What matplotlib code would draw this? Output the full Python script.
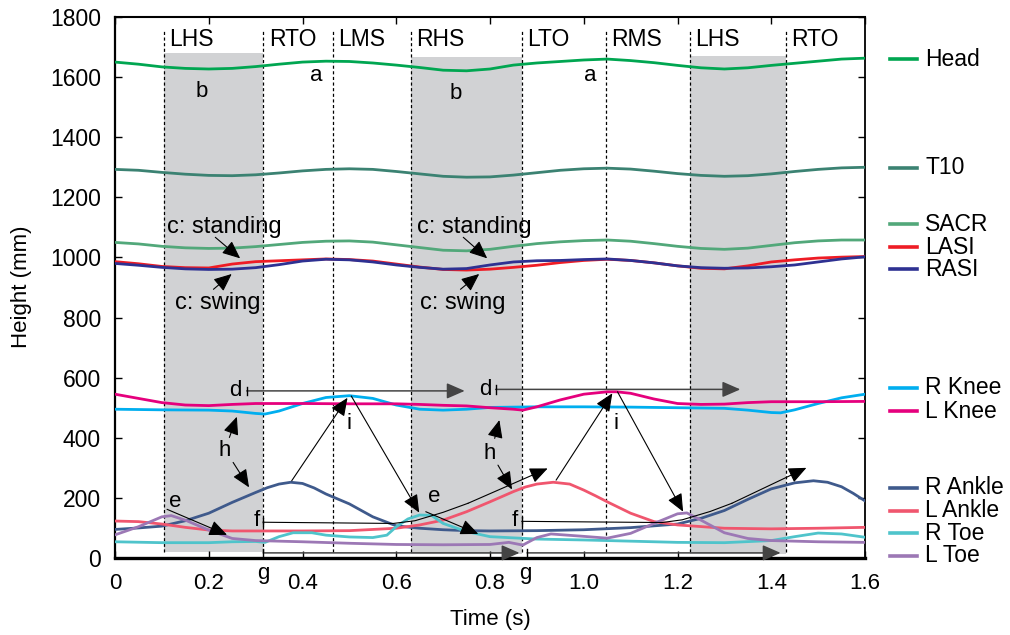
"""Gait marker heights over one and a half strides, with event annotations."""

import matplotlib
matplotlib.use("Agg")
import matplotlib.pyplot as plt  # noqa: E402
import matplotlib.transforms as mtransforms  # noqa: E402

plt.rcParams["font.family"] = ["Liberation Sans", "DejaVu Sans"]

# shared time grid for the upper-body markers (s)
T = [0.0, 0.05, 0.1, 0.15, 0.2, 0.25, 0.3, 0.35, 0.4, 0.45, 0.5, 0.55, 0.6,
     0.65, 0.7, 0.75, 0.8, 0.85, 0.9, 0.95, 1.0, 1.05, 1.1, 1.15, 1.2, 1.25,
     1.3, 1.35, 1.4, 1.45, 1.5, 1.55, 1.6]

HEAD = [1650, 1643, 1634, 1629, 1627, 1629, 1635, 1643, 1650, 1653, 1652,
        1647, 1640, 1632, 1623, 1621, 1627, 1640, 1647, 1652, 1657, 1660,
        1655, 1648, 1639, 1631, 1627, 1631, 1639, 1646, 1653, 1660, 1663]
T10 = [1293, 1290, 1283, 1277, 1273, 1272, 1275, 1281, 1288, 1293, 1295,
       1293, 1286, 1278, 1270, 1267, 1268, 1274, 1282, 1290, 1295, 1297,
       1294, 1287, 1279, 1273, 1270, 1272, 1278, 1286, 1293, 1298, 1300]
SACR = [1050, 1045, 1037, 1032, 1030, 1031, 1036, 1043, 1050, 1054, 1055,
        1051, 1042, 1033, 1024, 1022, 1027, 1037, 1046, 1052, 1056, 1058,
        1054, 1046, 1037, 1030, 1027, 1031, 1040, 1049, 1055, 1058, 1058]
LASI = [986, 979, 970, 966, 965, 978, 986, 989, 992, 995, 993, 988, 978,
        968, 960, 958, 961, 967, 974, 983, 990, 994, 990, 982, 972, 964,
        962, 972, 985, 992, 998, 1001, 1003]
RASI = [980, 974, 967, 962, 960, 961, 966, 976, 988, 994, 992, 985, 975,
        967, 961, 963, 975, 985, 989, 990, 993, 995, 990, 982, 972, 966,
        964, 965, 969, 975, 985, 995, 1002]

RKNEE_T = [0, 0.1, 0.2, 0.25, 0.3, 0.32, 0.35, 0.4, 0.45, 0.5, 0.55, 0.6,
           0.65, 0.7, 0.75, 0.8, 0.9, 1.0, 1.1, 1.2, 1.3, 1.35, 1.4, 1.42,
           1.45, 1.5, 1.55, 1.6]
RKNEE = [495, 493, 492, 489, 481, 479, 489, 514, 534, 540, 531, 509, 495,
         492, 495, 501, 503, 503, 502, 500, 498, 492, 484, 483, 493, 514,
         533, 545]
LKNEE_T = [0, 0.05, 0.1, 0.15, 0.2, 0.25, 0.3, 0.4, 0.5, 0.6, 0.65, 0.7,
           0.75, 0.8, 0.85, 0.87, 0.9, 0.95, 1.0, 1.05, 1.07, 1.1, 1.15, 1.2,
           1.25, 1.3, 1.35, 1.4, 1.5, 1.6]
LKNEE = [545, 531, 517, 509, 507, 511, 514, 514, 513, 513, 511, 508, 506,
         500, 495, 492, 503, 526, 545, 553, 553, 548, 529, 514, 511, 512,
         517, 520, 520, 521]

RANKLE_T = [0, 0.05, 0.1, 0.15, 0.2, 0.25, 0.3, 0.325, 0.35, 0.375, 0.4,
            0.425, 0.45, 0.5, 0.55, 0.6, 0.65, 0.7, 0.75, 0.8, 0.9, 1.0, 1.1,
            1.2, 1.25, 1.3, 1.35, 1.4, 1.45, 1.49, 1.52, 1.55, 1.575, 1.6]
RANKLE = [95, 100, 106, 124, 149, 185, 218, 234, 246, 252, 248, 233, 213,
          180, 137, 107, 99, 94, 91, 90, 91, 94, 101, 113, 132, 158, 195,
          230, 250, 257, 252, 237, 215, 190]
LANKLE_T = [0, 0.05, 0.1, 0.15, 0.2, 0.25, 0.3, 0.4, 0.5, 0.6, 0.65, 0.7,
            0.75, 0.8, 0.85, 0.875, 0.9, 0.935, 0.97, 1.0, 1.025, 1.05, 1.1,
            1.15, 1.2, 1.3, 1.4, 1.5, 1.6]
LANKLE = [123, 121, 113, 102, 93, 90, 90, 90, 91, 99, 110, 126, 154, 187,
          221, 236, 246, 252, 246, 226, 207, 187, 149, 121, 110, 99, 97, 99,
          102]
RTOE_T = [0, 0.1, 0.2, 0.25, 0.3, 0.32, 0.35, 0.38, 0.42, 0.45, 0.5, 0.55,
          0.58, 0.6, 0.625, 0.65, 0.675, 0.7, 0.75, 0.8, 0.9, 1.0, 1.1, 1.2,
          1.3, 1.4, 1.45, 1.5, 1.55, 1.6]
RTOE = [54, 51, 51, 54, 55, 52, 71, 84, 84, 76, 70, 68, 76, 104, 130, 143,
        142, 115, 88, 71, 63, 60, 56, 52, 51, 58, 71, 83, 80, 69]
LTOE_T = [0, 0.05, 0.1, 0.12, 0.15, 0.2, 0.25, 0.3, 0.4, 0.5, 0.6, 0.7, 0.8,
          0.84, 0.87, 0.9, 0.93, 1.0, 1.05, 1.1, 1.15, 1.2, 1.22, 1.25, 1.3,
          1.35, 1.4, 1.5, 1.6]
LTOE = [77, 104, 137, 141, 126, 93, 65, 58, 54, 49, 45, 44, 45, 52, 43, 68,
        80, 72, 66, 82, 115, 147, 150, 126, 84, 65, 58, 54, 52]

# gait events (s) and the stance windows that get shaded
EVENT_T = [0.104, 0.316, 0.465, 0.631, 0.868, 1.047, 1.226, 1.431]
EVENT_NAMES = ["LHS", "RTO", "LMS", "RHS", "LTO", "RMS", "LHS", "RTO"]
SHADE = [(0.104, 0.316, 21, 1681), (0.631, 0.868, 13, 1668),
         (1.226, 1.431, 13, 1670)]

# name, series x, series y, colour, legend height (mm)
SERIES = [
    ("Head", T, HEAD, "#00a651", 1660),
    ("T10", T, T10, "#3b8272", 1298),
    ("SACR", T, SACR, "#52a87a", 1110),
    ("LASI", T, LASI, "#ee1c25", 1034),
    ("RASI", T, RASI, "#2e3192", 961),
    ("R Knee", RKNEE_T, RKNEE, "#00aeef", 567),
    ("L Knee", LKNEE_T, LKNEE, "#e5007d", 489),
    ("R Ankle", RANKLE_T, RANKLE, "#3f5a8c", 234),
    ("L Ankle", LANKLE_T, LANKLE, "#f0566e", 157),
    ("R Toe", RTOE_T, RTOE, "#4fc4cb", 82),
    ("L Toe", LTOE_T, LTOE, "#9c78b5", 8),
]

# letter labels: (text, t, mm, size)
LABELS = [("a", 0.429, 1607, 16), ("a", 1.013, 1607, 16),
          ("b", 0.186, 1551, 16), ("b", 0.727, 1546, 16),
          ("c: standing", 0.233, 1102, 17), ("c: standing", 0.766, 1102, 17),
          ("c: swing", 0.22, 847, 17), ("c: swing", 0.742, 847, 17),
          ("h", 0.233, 359, 16), ("h", 0.799, 348, 16),
          ("i", 0.499, 448, 16), ("i", 1.069, 448, 16),
          ("e", 0.129, 187, 16), ("e", 0.681, 204, 16),
          ("d", 0.257, 556, 16), ("d", 0.791, 561, 16),
          ("f", 0.303, 124, 16), ("f", 0.852, 124, 16),
          ("g", 0.316, -50, 16), ("g", 0.876, -50, 16)]

# plain pointer arrows: (t from, mm from, t to, mm to)
POINTERS = [
    (0.214, 1067, 0.267, 997), (0.743, 1067, 0.794, 997),
    (0.21, 894, 0.249, 945), (0.737, 894, 0.777, 945),
    (0.244, 401, 0.26, 470), (0.81, 398, 0.82, 459),
    (0.252, 318, 0.286, 235), (0.817, 309, 0.847, 228),
    (0.377, 257, 0.496, 533), (0.504, 539, 0.649, 151),
    (0.941, 259, 1.061, 548), (1.072, 553, 1.212, 154),
    (0.111, 162, 0.239, 77), (0.663, 154, 0.775, 80),
]
# bar-started interval arrows (d and g)
SPANS = [(0.281, 0.746, 556), (0.812, 1.334, 561),
         (0.316, 0.863, 17), (0.879, 1.42, 17)]
# f paths: horizontal run that bends up to the next swing
F_PATHS = [
    ([0.316, 0.594, 0.64, 0.70, 0.753, 0.923], [119, 115, 124, 152, 182, 298]),
    ([0.868, 1.167, 1.21, 1.27, 1.316, 1.475], [122, 118, 127, 155, 182, 300]),
]

ARROW = dict(arrowstyle="-|>,head_length=0.55,head_width=0.24", color="black",
             lw=0.8, shrinkA=0, shrinkB=0, mutation_scale=20)

fig = plt.figure(figsize=(10.1, 6.35), dpi=100)
ax = fig.add_axes([115 / 1010, 77 / 635, 750 / 1010, 541 / 635])

for x0, x1, y0, y1 in SHADE:
    ax.fill_between([x0, x1], [y0, y0], [y1, y1], color="#d1d2d4", lw=0,
                    zorder=0)
ax.vlines(EVENT_T, 21, 1756, colors="black", linestyles=(0, (2.5, 2)),
          lw=0.9, zorder=1)
for t, name in zip(EVENT_T, EVENT_NAMES):
    ax.text(t + 0.012, 1725, name, ha="left", va="center", fontsize=16.5)

for name, xs, ys, color, _ in SERIES:
    ax.plot(xs, ys, color=color, lw=2, zorder=3, solid_joinstyle="round")

for text, t, mm, size in LABELS:
    ax.text(t, mm, text, ha="center", va="center", fontsize=size, zorder=5)

for x0, y0, x1, y1 in POINTERS:
    ax.annotate("", xy=(x1, y1), xytext=(x0, y0), arrowprops=ARROW, zorder=6)

for x0, x1, y in SPANS:
    ax.annotate("", xy=(x1, y), xytext=(x0, y),
                arrowprops=dict(ARROW, color="#444444", lw=1.1), zorder=6)
    ax.plot([x0, x0], [y - 14, y + 14], color="black", lw=1, zorder=6)

for xs, ys in F_PATHS:
    ax.plot(xs[:-1], ys[:-1], color="black", lw=0.8, zorder=6)
    ax.plot([xs[0], xs[0]], [ys[0] - 14, ys[0] + 14], color="black", lw=1,
            zorder=6)
    ax.annotate("", xy=(xs[-1], ys[-1]), xytext=(xs[-2], ys[-2]),
                arrowprops=ARROW, zorder=6)

# legend drawn beside the matching curve heights
trans = mtransforms.blended_transform_factory(ax.transAxes, ax.transData)
for name, _, _, color, y in SERIES:
    ax.plot([1.0333, 1.0693], [y, y], transform=trans, clip_on=False,
            color=color, lw=2.6)
    ax.text(1.08, y, name, transform=trans, ha="left", va="center",
            fontsize=16.5)

ax.set_xlim(0, 1.6)
ax.set_ylim(0, 1800)
ax.set_xticks([0, 0.2, 0.4, 0.6, 0.8, 1.0, 1.2, 1.4, 1.6])
ax.set_xticklabels(["0", "0.2", "0.4", "0.6", "0.8", "1.0", "1.2", "1.4",
                    "1.6"])
ax.set_yticks(range(0, 1801, 200))
ax.tick_params(direction="in", top=True, right=True, length=5, width=1)
ax.tick_params(axis="y", labelsize=16.5, pad=10)
ax.tick_params(axis="x", labelsize=16, pad=11)
for side, w in (("bottom", 2.4), ("left", 1.6), ("top", 1.5), ("right", 1.3)):
    ax.spines[side].set_linewidth(w)

fig.text(22 / 1010, 1 - 287 / 635, "Height (mm)", rotation=90, ha="center",
         va="center", fontsize=16)
fig.text(490 / 1010, 1 - 620 / 635, "Time (s)", ha="center", va="center",
         fontsize=16)

fig.savefig("out.png", dpi=100)
